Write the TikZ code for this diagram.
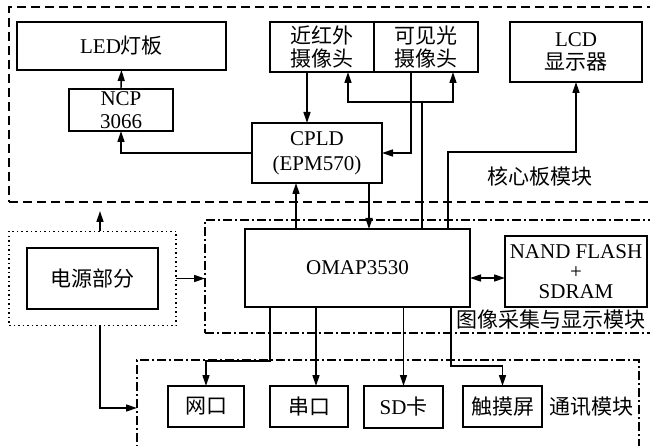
\documentclass[tikz,border=0pt]{standalone}
\usepackage{fontspec}
\setmainfont{Liberation Serif}
\newfontfamily\cjk{Noto Sans CJK SC}
\usepackage{tikz}
\usetikzlibrary{arrows.meta,positioning,fit}

\begin{document}
\begin{tikzpicture}[
  x=1pt,y=-1pt,
  font=\fontsize{21}{23}\selectfont,
  line width=1.4pt,
  box/.style={draw,inner sep=1pt,align=center,outer sep=0pt},
  modbox/.style={draw,line width=1.2pt,outer sep=0pt,dash pattern=on 9pt off 5pt},
  ddbox/.style={draw,line width=1.2pt,outer sep=0pt,dash pattern=on 9pt off 3pt on 2pt off 3pt},
  dotbox/.style={draw,line width=1.4pt,outer sep=0pt,dash pattern=on 1.5pt off 3pt},
  arr/.style={-{Triangle[length=11pt,width=7pt]}},
  dblarr/.style={{Triangle[length=11pt,width=7pt]}-{Triangle[length=11pt,width=7pt]}}
]
\useasboundingbox (0,0) rectangle (650,446);

% ---- module frames ----
\node[modbox,minimum width=646pt,minimum height=195pt] (core) at (332,104.5) {};
\node[ddbox,minimum width=450pt,minimum height=113pt]  (imgmod) at (430,276.5) {};
\node[ddbox,minimum width=502pt,minimum height=96pt]   (comm) at (388,408) {};
\node at (540,177) {\cjk 核心板模块};
\node at (551,320) {\cjk 图像采集与显示模块};
\node at (591,407) {\cjk 通讯模块};

% ---- core board ----
\node[box,minimum width=209pt,minimum height=48pt] (led)  at (121.5,46) {LED{\cjk 灯板}};
\node[box,minimum width=104pt,minimum height=42pt] (ncp)  at (121,110)  {NCP\\3066};
\node[box,minimum width=130pt,minimum height=60pt] (cpld) at (317,153)  {CPLD\\[2pt](EPM570)};
\node[box,minimum width=104pt,minimum height=50pt] (cam1) at (322,47)   {\cjk 近红外\\\cjk 摄像头};
\node[box,minimum width=104pt,minimum height=50pt,right=0pt of cam1] (cam2) {\cjk 可见光\\\cjk 摄像头};
\node[box,minimum width=132pt,minimum height=60pt] (lcd)  at (576,52)   {LCD\\\cjk 显示器};

% ---- image capture and display ----
\node[box,minimum width=225pt,minimum height=78pt] (omap) at (357.5,268) {OMAP3530};
\node[box,minimum width=142pt,minimum height=71pt] (nand) at (576,271.5) {NAND FLASH\\[-3pt]+\\[-3pt]SDRAM};

% ---- power ----
\node[box,minimum width=131pt,minimum height=61pt] (pwr) at (92.5,278.5) {\cjk 电源部分};
\node[dotbox,fit=(pwr),inner xsep=18pt,inner ysep=16.5pt] (pwrbox) {};
\coordinate (pwrup) at (100,211);

% ---- communication ----
\node[box,minimum width=76pt,minimum height=41pt] (net)    at (206,406.5)   {\cjk 网口};
\node[box,minimum width=78pt,minimum height=41pt] (serial) at (309,406.5)   {\cjk 串口};
\node[box,minimum width=79pt,minimum height=42pt] (sd)     at (403.5,407)   {SD{\cjk 卡}};
\node[box,minimum width=79pt,minimum height=41pt] (touch)  at (502.5,406.5) {\cjk 触摸屏};

% ---- connections ----
\draw[arr] (ncp.north) -- (led.south);
\draw[arr] (cpld.west) -| (ncp.south);
\draw[arr] ([xshift=-15pt]cam1.south) -- ([xshift=-10pt]cpld.north);
\coordinate (split) at (422,102);
\draw (omap.north -| split) -- (split);
\draw[arr] (split) -| ([xshift=26pt]cam1.south);
\draw[arr] (split) -| ([xshift=27pt]cam2.south);
\draw[arr] ([xshift=-15pt]cam2.south) |- (cpld.east);
\coordinate (lcdturn) at (448,152);
\draw[arr] (omap.north -| lcdturn) -- (lcdturn) -| (lcd.south);
\draw[arr] ([xshift=52pt]cpld.south) -- ([xshift=52pt]cpld.south |- omap.north);
\draw[arr] ([xshift=-21pt]cpld.south |- omap.north) -- ([xshift=-21pt]cpld.south);
\draw[dblarr] ([yshift=-10pt]omap.east) -- ([yshift=-10pt]omap.east -| nand.west);
\draw[arr] (pwrbox.east) -- (pwrbox.east -| imgmod.west);
\draw[arr] (pwrbox.north -| pwrup) -- (pwrup);
\draw[arr] (pwrbox.south -| pwrup) |- (comm.west);
\draw[arr] ([xshift=-87.5pt]omap.south) -- ++(0,54) -| (net.north);
\draw[arr] ([xshift=7pt]serial.north |- omap.south) -- ([xshift=7pt]serial.north);
\draw[arr] (omap.south -| sd.north) -- (sd.north);
\draw[arr] ([xshift=93.5pt]omap.south) -- ++(0,59) -| (touch.north);
\end{tikzpicture}
\end{document}
